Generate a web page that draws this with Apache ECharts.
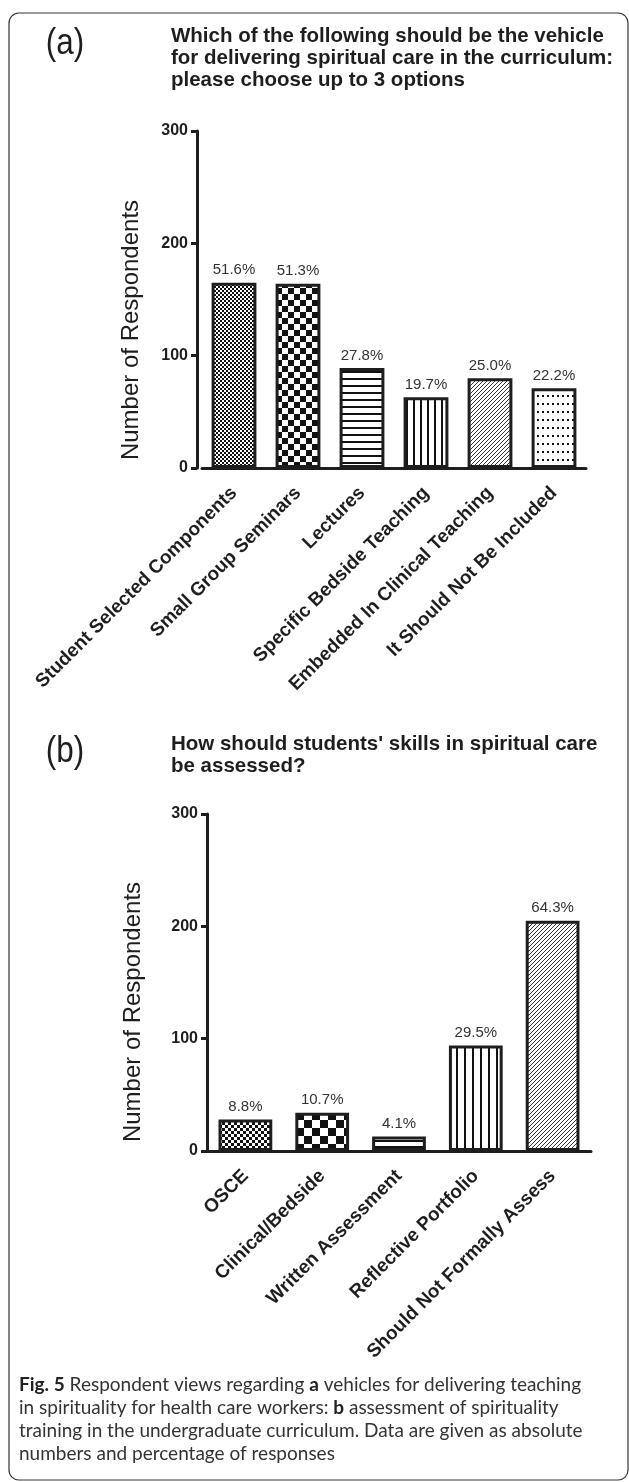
<!DOCTYPE html>
<html>
<head>
<meta charset="utf-8">
<script src="https://cdn.jsdelivr.net/npm/echarts@6/dist/echarts.min.js"></script>
<style>
  html, body { margin: 0; padding: 0; background: #fff; }
  #chart { width: 629px; height: 1482px; }
</style>
</head>
<body>
<div id="chart"></div>
<script>
// panel (a)
const catsA = ['Student Selected Components', 'Small Group Seminars', 'Lectures', 'Specific Bedside Teaching', 'Embedded In Clinical Teaching', 'It Should Not Be Included']
const valsA = [165, 164, 89, 63, 80, 71]
const pctA = ['51.6%', '51.3%', '27.8%', '19.7%', '25.0%', '22.2%']
// panel (b)
const catsB = ['OSCE', 'Clinical/Bedside', 'Written Assessment', 'Reflective Portfolio', 'Should Not Formally Assess']
const valsB = [28, 34, 13, 94, 205]
const pctB = ['8.8%', '10.7%', '4.1%', '29.5%', '64.3%']
const yMin = 0, yMax = 300, yStep = 100

const INK = '#1e1e1e'
const ARIAL = '"Liberation Sans", Arial, sans-serif'

// hatch tiles, drawn once and used as repeat fills
function tile(w, h, draw) {
  const c = document.createElement('canvas')
  c.width = w; c.height = h
  const g = c.getContext('2d')
  g.fillStyle = '#fff'
  g.fillRect(0, 0, w, h)
  g.fillStyle = '#111'
  draw(g)
  return { image: c, repeat: 'repeat' }
}
const checker = s => tile(s * 2, s * 2, g => { g.fillRect(0, 0, s, s); g.fillRect(s, s, s, s) })
const hLines = p => tile(p, p, g => g.fillRect(0, 0, p, 2))
const vLines = p => tile(p, p, g => g.fillRect(0, 0, 2, p))
const diag = () => tile(4, 4, g => { g.fillStyle = '#333'; for (let i = 0; i < 4; i++) g.fillRect(i, 3 - i, 1, 1) })
const dots = () => tile(5, 8, g => g.fillRect(2, 3, 2, 2))

const fillsA = [checker(2), checker(6), hLines(7), vLines(7), diag(), dots()]
const fillsB = [checker(3), checker(8), hLines(6), vLines(8), diag()]

function xAxisCfg(idx, cats) {
  return {
    type: 'category',
    gridIndex: idx,
    data: cats,
    axisLine: { lineStyle: { color: INK, width: 3 } },
    axisTick: { alignWithLabel: true, length: 7, lineStyle: { color: INK, width: 3 } },
    axisLabel: {
      rotate: 45, margin: 22, interval: 0,
      color: INK, fontSize: 19, fontWeight: 'bold', fontFamily: ARIAL
    }
  }
}
function yAxisCfg(idx, off) {
  return {
    type: 'value',
    gridIndex: idx,
    min: yMin, max: yMax, interval: yStep,
    offset: off,
    splitLine: { show: false },
    axisLine: { show: true, lineStyle: { color: INK, width: 3 } },
    axisTick: { show: true, length: 6, lineStyle: { color: INK, width: 3 } },
    axisLabel: { margin: 9, color: INK, fontSize: 16, fontWeight: 'bold', fontFamily: ARIAL }
  }
}
function barSeries(idx, vals, pcts, fills) {
  return {
    type: 'bar',
    xAxisIndex: idx,
    yAxisIndex: idx,
    barCategoryGap: '30%',
    data: vals.map((v, i) => ({ value: v, itemStyle: { color: fills[i] } })),
    itemStyle: { borderColor: INK, borderWidth: 3 },
    label: {
      show: true, position: 'top', distance: 5,
      color: '#333', fontSize: 15, fontFamily: ARIAL,
      formatter: p => pcts[p.dataIndex]
    },
    silent: true
  }
}
function panelTag(txt, y) {
  return { type: 'text', x: 65, y: y, scaleX: 0.85,
    style: { text: txt, align: 'center', verticalAlign: 'middle', fontSize: 37, fontFamily: ARIAL, fill: INK } }
}
function yName(x, y) {
  return { type: 'text', x: x, y: y, rotation: Math.PI / 2,
    style: { text: 'Number of Respondents', align: 'center', verticalAlign: 'middle',
      fontSize: 24, fontFamily: ARIAL, fill: INK } }
}

const myChart = echarts.init(document.getElementById('chart'), null, { renderer: 'canvas' })
const option = {
  backgroundColor: '#fff',
  animation: false,
  title: [
    { text: 'Which of the following should be the vehicle\nfor delivering spiritual care in the curriculum:\nplease choose up to 3 options',
      left: 171, top: 25, padding: 0,
      textStyle: { fontSize: 20.5, fontWeight: 'bold', lineHeight: 22, color: INK, fontFamily: ARIAL } },
    { text: 'How should students\' skills in spiritual care\nbe assessed?',
      left: 171, top: 733, padding: 0,
      textStyle: { fontSize: 20.5, fontWeight: 'bold', lineHeight: 22, color: INK, fontFamily: ARIAL } }
  ],
  grid: [
    { left: 202, top: 131, width: 384, height: 337 },
    { left: 207, top: 814, width: 384, height: 337 }
  ],
  xAxis: [xAxisCfg(0, catsA), xAxisCfg(1, catsB)],
  yAxis: [yAxisCfg(0, 5), yAxisCfg(1, 0)],
  series: [
    barSeries(0, valsA, pctA, fillsA),
    barSeries(1, valsB, pctB, fillsB)
  ],
  graphic: [
    { type: 'rect', silent: true,
      shape: { x: 9, y: 13, width: 619, height: 1467, r: 10 },
      style: { fill: 'none', stroke: '#333', lineWidth: 1.2 } },
    panelTag('(a)', 44),
    panelTag('(b)', 752),
    yName(131, 330),
    yName(133, 1012),
    { type: 'text', x: 19, y: 1373,
      style: {
        text: '{b|Fig. 5} Respondent views regarding {b|a} vehicles for delivering teaching\n' +
          'in spirituality for health care workers: {b|b} assessment of spirituality\n' +
          'training in the undergraduate curriculum. Data are given as absolute\n' +
          'numbers and percentage of responses',
        fontSize: 19, lineHeight: 23, fontFamily: 'Lato, sans-serif', fill: '#333',
        rich: { b: { fontSize: 19, lineHeight: 23, fontFamily: 'Lato, sans-serif', fontWeight: 'bold', fill: '#222' } }
      } }
  ]
}
option && myChart.setOption(option)
</script>
</body>
</html>
